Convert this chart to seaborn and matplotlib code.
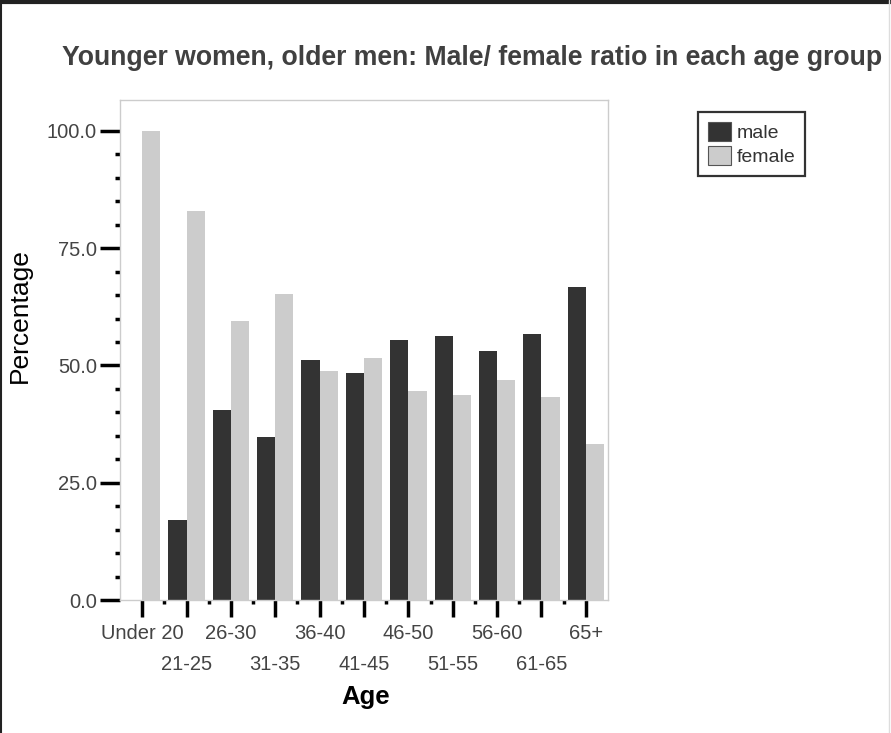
import pandas as pd
import matplotlib.pyplot as plt
import seaborn as sns
from matplotlib.ticker import FixedLocator
from matplotlib.lines import Line2D
from matplotlib.transforms import ScaledTranslation

# Werte
age_groups = ['Under 20', '21-25', '26-30', '31-35', '36-40', '41-45',
              '46-50', '51-55', '56-60', '61-65', '65+']
male = [0.0, 17.0, 40.6, 34.7, 51.1, 48.4, 55.4, 56.2, 53.1, 56.7, 66.7]
female = [100.0, 83.0, 59.4, 65.3, 48.9, 51.6, 44.6, 43.8, 46.9, 43.3, 33.3]

df = pd.DataFrame({
    'Age': age_groups * 2,
    'Percentage': male + female,
    'Sex': ['male'] * len(male) + ['female'] * len(female),
})

sns.set_style('white')
plt.rcParams['font.family'] = ['Liberation Sans', 'DejaVu Sans']

fig = plt.figure(figsize=(8.91, 7.33), dpi=100)
ax = fig.add_axes([120 / 891, 1 - 600 / 733, 488 / 891, 500 / 733])

sns.barplot(data=df, x='Age', y='Percentage', hue='Sex', order=age_groups,
            hue_order=['male', 'female'], palette=['#333333', '#cccccc'],
            width=0.82, linewidth=0, saturation=1, ax=ax)

ax.set_xlim(-0.5, len(age_groups) - 0.5)
ax.set_ylim(0, 106.6)

# y-Achse
ax.set_yticks([0, 25, 50, 75, 100])
ax.set_yticklabels(['0.0', '25.0', '50.0', '75.0', '100.0'])
ax.yaxis.set_minor_locator(FixedLocator([v for v in range(5, 100, 5) if v % 25]))
ax.tick_params(axis='y', which='major', length=14.5, width=2.5, color='black',
               labelsize=14.5, labelcolor='#444444', pad=2, left=True)
ax.tick_params(axis='y', which='minor', length=3.5, width=2.5, color='black', left=True)

# x-Achse, Beschriftung in zwei Reihen
ax.set_xticks(range(len(age_groups)))
ax.set_xticklabels(age_groups)
ax.xaxis.set_minor_locator(FixedLocator([i + 0.5 for i in range(len(age_groups) - 1)]))
ax.tick_params(axis='x', which='major', length=12, width=2.5, color='black',
               labelsize=14.5, labelcolor='#444444', pad=5, bottom=True)
ax.tick_params(axis='x', which='minor', length=3, width=2.5, color='black', bottom=True)
shift = ScaledTranslation(0, -0.31, fig.dpi_scale_trans)
for i, lab in enumerate(ax.get_xticklabels()):
    if i % 2 == 1:
        lab.set_transform(lab.get_transform() + shift)

for s in ax.spines.values():
    s.set_color('#cccccc')
    s.set_linewidth(1)

ax.set_xlabel('')
ax.set_ylabel('')

fig.text(62 / 891, 1 - 65 / 733,
         'Younger women, older men: Male/ female ratio in each age group',
         fontsize=19.2, fontweight='bold', color='#404040', ha='left', va='baseline')
fig.text(20 / 891, 1 - 316 / 733, 'Percentage', rotation=90, fontsize=19,
         color='black', ha='center', va='center')
fig.text(366 / 891, 1 - 704 / 733, 'Age', fontsize=18.5, fontweight='bold',
         color='black', ha='center', va='baseline')

handles, lbls = ax.get_legend_handles_labels()
for h in handles:
    h.set_edgecolor('#555555')
    h.set_linewidth(0.8)
leg = ax.legend(handles, lbls, loc='upper left', bbox_to_anchor=(698 / 891, 1 - 112 / 733),
                bbox_transform=fig.transFigure, borderaxespad=0, fontsize=14,
                frameon=True, fancybox=False, edgecolor='black', handlelength=1.2,
                handleheight=1.15, labelspacing=0.2, handletextpad=0.3, borderpad=0.5)
leg.get_frame().set_linewidth(1.6)
for t in leg.get_texts():
    t.set_color('#333333')

# Rahmen um das Bild
fig.add_artist(Line2D([0, 1], [1 - 2 / 733, 1 - 2 / 733], transform=fig.transFigure,
                      color='#222222', linewidth=3))
fig.add_artist(Line2D([1 / 891, 1 / 891], [0, 1], transform=fig.transFigure,
                      color='#222222', linewidth=1.5))
fig.add_artist(Line2D([889 / 891, 889 / 891], [0, 1], transform=fig.transFigure,
                      color='#dddddd', linewidth=1))

fig.savefig('out.png', dpi=100)
